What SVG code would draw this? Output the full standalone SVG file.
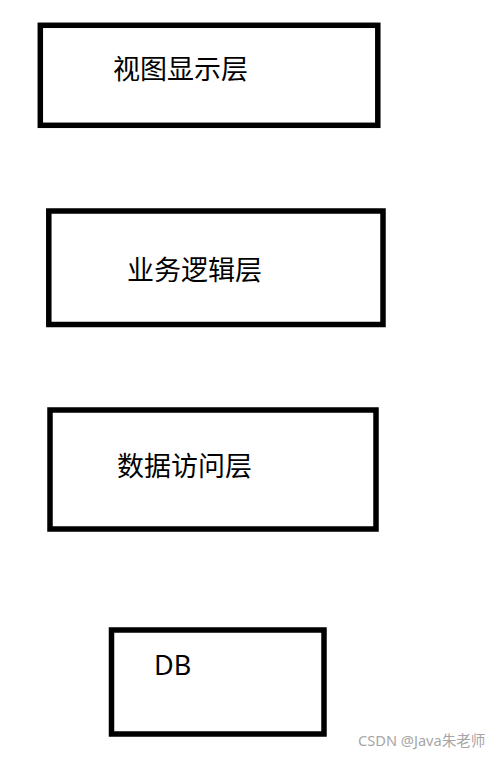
<svg xmlns="http://www.w3.org/2000/svg" width="500" height="758" viewBox="0 0 500 758">
<style>
.box{fill:#fff;stroke:#000;stroke-width:5.5}
.lbl{font-family:"Noto Sans","Noto Sans CJK SC",sans-serif;font-size:27px;fill:#000}
.wm{font-family:"Noto Sans","Noto Sans CJK SC",sans-serif;font-size:14.6px;fill:#a6a6a6}
</style>
<rect width="500" height="758" fill="#fff"/>
<g id="view-layer">
<rect class="box" x="40.3" y="25.3" width="337.5" height="100"/>
<text class="lbl" x="113" y="79">视图显示层</text>
</g>
<g id="business-layer">
<rect class="box" x="48.8" y="211" width="334.2" height="113.5"/>
<text class="lbl" x="127" y="280">业务逻辑层</text>
</g>
<g id="data-access-layer">
<rect class="box" x="50" y="410" width="326" height="119"/>
<text class="lbl" x="117" y="476">数据访问层</text>
</g>
<g id="db">
<rect class="box" x="111.5" y="630" width="212.5" height="104"/>
<text class="lbl" x="154" y="675">DB</text>
</g>
<g id="connectors"></g>
<text class="wm" x="358" y="746">CSDN @Java朱老师</text>
</svg>
